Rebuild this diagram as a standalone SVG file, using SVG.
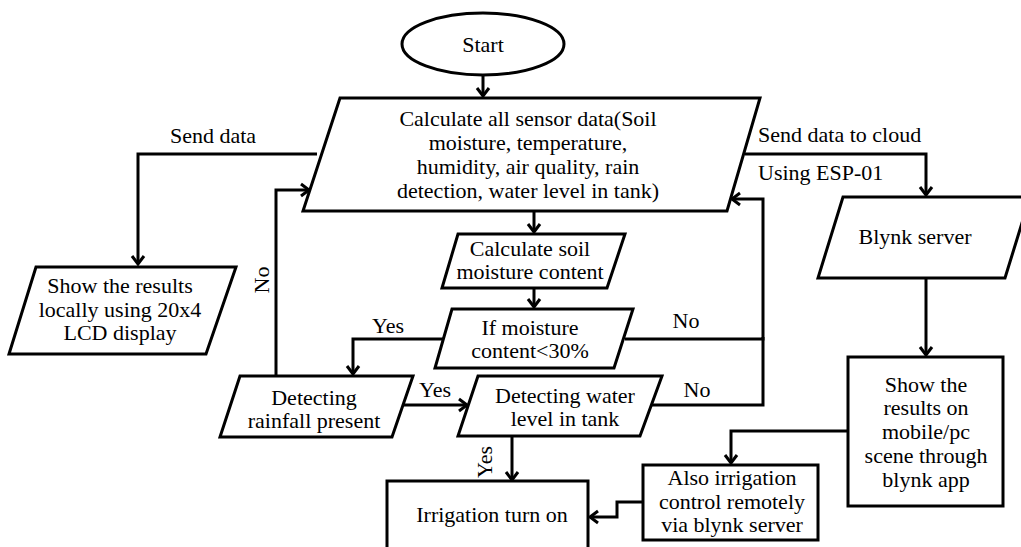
<svg xmlns="http://www.w3.org/2000/svg" width="1021" height="547" viewBox="0 0 1021 547">
<style>
.s{fill:#fff;stroke:#000;stroke-width:3;stroke-linejoin:miter}
.t{font-family:"Liberation Serif","Times New Roman",serif;font-size:22px;fill:#000;text-anchor:middle}
.l{font-family:"Liberation Serif","Times New Roman",serif;font-size:22px;fill:#000}
.c{fill:none;stroke:#000;stroke-width:3;marker-end:url(#a)}
.n{fill:none;stroke:#000;stroke-width:3}
</style>
<defs>
<marker id="a" markerUnits="userSpaceOnUse" markerWidth="20" markerHeight="20" refX="0" refY="0" viewBox="-12 -10 14 20" orient="auto" overflow="visible">
<path d="M-8,-6 L0,0 L-8,6" fill="none" stroke="#000" stroke-width="3"/>
</marker>
</defs>
<rect width="1021" height="547" fill="#fff"/>
<g id="connectors">
<path class="c" d="M483,76 V96"/>
<path class="c" d="M534,212 V232"/>
<path class="c" d="M534,289 V307"/>
<path class="c" d="M317,154 H138 V264"/>
<path class="c" d="M745,154 H926 V195"/>
<path class="c" d="M926,279 V355"/>
<path class="c" d="M848,431 H731 V463"/>
<path class="c" d="M643,502 H617 V517 H590"/>
<path class="c" d="M443,339 H353 V374"/>
<path class="c" d="M625,339 H763 V199 H732"/>
<path class="n" d="M651,405 H763 V337"/>
<path class="c" d="M403,405 H467"/>
<path class="c" d="M276,376 V190 H309"/>
<path class="c" d="M512,437 V480"/>
<text class="t" x="213" y="143">Send data</text>
<text class="l" x="758" y="142">Send data to cloud</text>
<text class="l" x="758" y="180">Using ESP-01</text>
<text class="t" x="0" y="0" transform="translate(269,280) rotate(-90)">No</text>
<text class="t" x="388" y="333">Yes</text>
<text class="t" x="686" y="328">No</text>
<text class="t" x="435" y="397">Yes</text>
<text class="t" x="697" y="397">No</text>
<text class="t" x="0" y="0" transform="translate(492,462) rotate(-90)">Yes</text>
</g>
<g id="start">
<ellipse class="s" cx="483" cy="44" rx="81" ry="31"/>
<text class="t" x="483" y="52">Start</text>
</g>
<g id="calc-all">
<polygon class="s" points="340,98 760,98 727,211 303,211"/>
<text class="t" x="528" y="126">Calculate all sensor data(Soil</text>
<text class="t" x="528" y="150">moisture, temperature,</text>
<text class="t" x="528" y="174">humidity, air quality, rain</text>
<text class="t" x="528" y="198">detection, water level in tank)</text>
</g>
<g id="show-local">
<polygon class="s" points="36,267 236,267 206,354 9,354"/>
<text class="t" x="120" y="293">Show the results</text>
<text class="t" x="120" y="317">locally using 20x4</text>
<text class="t" x="120" y="340">LCD display</text>
</g>
<g id="calc-soil">
<polygon class="s" points="458,234 625,234 607,288 442,288"/>
<text class="t" x="530" y="256">Calculate soil</text>
<text class="t" x="530" y="279">moisture content</text>
</g>
<g id="if-moisture">
<polygon class="s" points="452,309 633,309 614,368 435,368"/>
<text class="t" x="530" y="335">If moisture</text>
<text class="t" x="530" y="358">content&lt;30%</text>
</g>
<g id="rainfall">
<polygon class="s" points="240,376 413,376 392,437 220,437"/>
<text class="t" x="314" y="405">Detecting</text>
<text class="t" x="314" y="428">rainfall present</text>
</g>
<g id="water-level">
<polygon class="s" points="478,376 662,376 640,436 458,436"/>
<text class="t" x="565" y="403">Detecting water</text>
<text class="t" x="565" y="426">level in tank</text>
</g>
<g id="irrigation">
<rect class="s" x="387" y="481" width="201" height="80"/>
<text class="t" x="492" y="522">Irrigation turn on</text>
</g>
<g id="blynk-server">
<polygon class="s" points="843,197 1030,197 1005,278 818,278"/>
<text class="t" x="915" y="244">Blynk server</text>
</g>
<g id="show-mobile">
<rect class="s" x="848" y="357" width="155" height="149"/>
<text class="t" x="926" y="392">Show the</text>
<text class="t" x="926" y="415">results on</text>
<text class="t" x="926" y="439">mobile/pc</text>
<text class="t" x="926" y="463">scene through</text>
<text class="t" x="926" y="487">blynk app</text>
</g>
<g id="remote-control">
<rect class="s" x="643" y="465" width="175" height="75"/>
<text class="t" x="732" y="485">Also irrigation</text>
<text class="t" x="732" y="509">control remotely</text>
<text class="t" x="732" y="532">via blynk server</text>
</g>
</svg>
